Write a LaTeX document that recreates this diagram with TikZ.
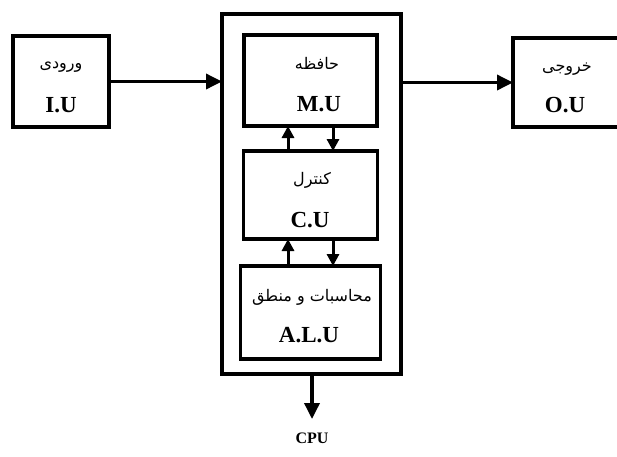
\documentclass[tikz,border=0pt]{standalone}
\usepackage{fontspec}
\setmainfont{Liberation Serif}
\newfontfamily\fa[Script=Arabic]{DejaVu Sans}
\TeXXeTstate=1
\usetikzlibrary{arrows.meta}
\begin{document}
\begin{tikzpicture}[x=1pt,y=-1pt,
  box/.style={draw,line width=3.5pt,minimum width=#1,inner sep=0pt,outer sep=0pt},
  arr/.style={line width=3.5pt,-{Triangle[length=16pt,width=15pt]}},
  sarr/.style={line width=3pt,-{Triangle[length=12pt,width=12pt]}},
  en/.style={font=\fontsize{23}{26}\selectfont\bfseries,inner sep=0pt},
  fatext/.style={font=\fontsize{16}{19}\selectfont\fa,inner sep=0pt}]
\useasboundingbox (0,0) rectangle (617,456);
\node[box=96pt,minimum height=91pt] (iu) at (61,81.5) {};
\node[box=179pt,minimum height=360pt] (cpu) at (311.5,194) {};
\node[box=133pt,minimum height=91pt] (mu) at (310.5,80.5) {};
\node[box=134pt,minimum height=88pt] (cu) at (310.5,195) {};
\node[box=140pt,minimum height=93pt] (alu) at (310.5,312.5) {};
\node[box=108pt,minimum height=89pt] (ou) at (567,82.5) {};
% texts
\node[fatext] (iufa) at (61,67) {\beginR ورودی\endR};
\node[en] (iuen) at (61,105) {I.U};
\node[fatext] (mufa) at (317,63) {\beginR حافظه\endR};
\node[en] (muen) at (319,104) {M.U};
\node[fatext] (cufa) at (312,180) {\beginR کنترل\endR};
\node[en] (cuen) at (310,220) {C.U};
\node[fatext] (alufa) at (312,297) {\beginR محاسبات و منطق\endR};
\node[en] (aluen) at (309,335) {A.L.U};
\node[fatext] (oufa) at (567,69) {\beginR خروجی\endR};
\node[en] (ouen) at (565,105) {O.U};
\node[font=\fontsize{16}{18}\selectfont\bfseries,inner sep=0pt] (cpulab) at (312,438) {CPU};
\coordinate (cpuend) at (312,419);
% connectors
\draw[arr] (iu.east) -- (cpu.west |- iu.east);
\draw[arr] (cpu.east |- ou.west) -- (ou.west);
\draw[sarr] ([xshift=-22.5pt]cu.north) -- ([xshift=-22.5pt]mu.south);
\draw[sarr] ([xshift=22.5pt]mu.south) -- ([xshift=22.5pt]cu.north);
\draw[sarr] ([xshift=-22.5pt]alu.north) -- ([xshift=-22.5pt]cu.south);
\draw[sarr] ([xshift=22.5pt]cu.south) -- ([xshift=22.5pt]alu.north);
\draw[arr] (cpu.south -| cpuend) -- (cpuend);
\end{tikzpicture}
\end{document}
